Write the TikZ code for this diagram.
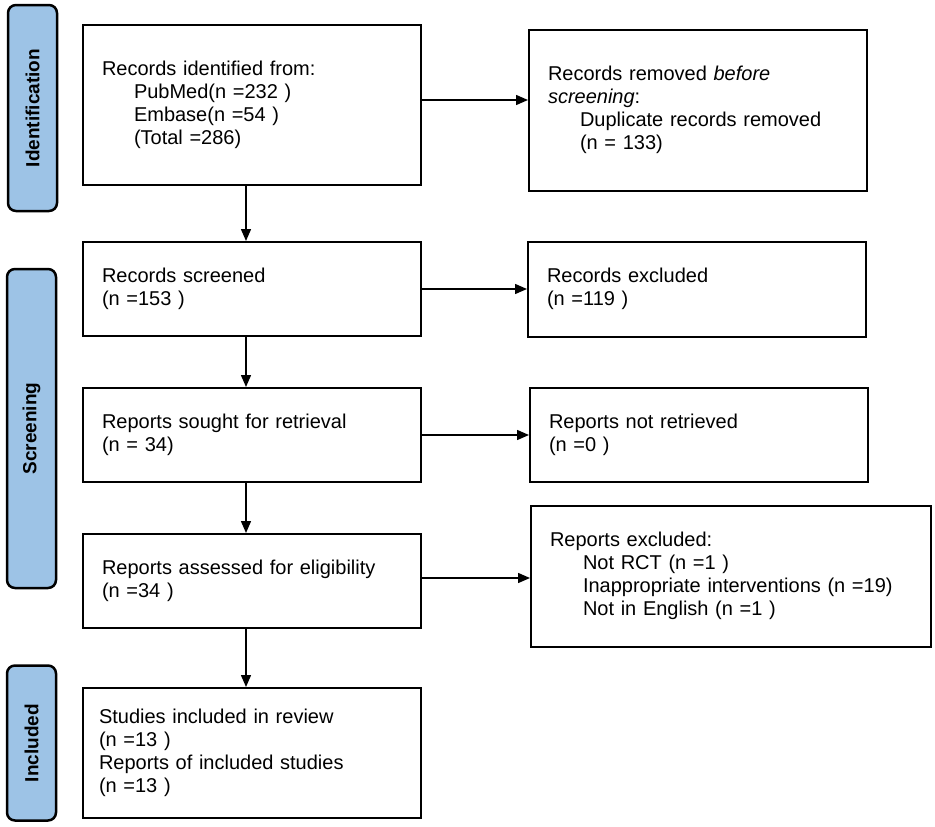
\documentclass[tikz,border=0pt]{standalone}
\usepackage{fontspec}
\setmainfont{Liberation Sans}
\usepackage{xcolor}
\usetikzlibrary{arrows.meta,positioning,calc}
\definecolor{phaseblue}{RGB}{157,195,230}

\begin{document}
\begin{tikzpicture}[
    x=1pt, y=-1pt,
    node distance=50pt,
    box/.style={rectangle, draw, line width=2pt, text width=300pt, inner xsep=19pt, inner ysep=0pt, align=left, font=\fontsize{20}{23}\selectfont},
    phase/.style={rectangle, draw, line width=2.5pt, rounded corners=8pt, fill=phaseblue, rotate=90, minimum height=49pt, font=\fontsize{19}{22}\selectfont\bfseries},
    arrow/.style={-{Triangle[length=12pt,width=10pt]}, line width=1.5pt}
]
\useasboundingbox (0,0) rectangle (935,827);

% Phase labels
\node[phase, minimum width=206pt] (idphase) at (32.5,108) {Identification};
\node[phase, minimum width=319pt] (scphase) at (31.5,428.5) {Screening};
\node[phase, minimum width=155pt] (inphase) at (31.5,743) {Included};

% Main column
\node[box, minimum height=160pt] (ident) at (252,105) {Records identified from:\\
  \hspace*{32pt}PubMed(n =232 )\\
  \hspace*{32pt}Embase(n =54 )\\
  \hspace*{32pt}(Total =286)};
\node[box, minimum height=94pt, below=55pt of ident] (screen) {Records screened\\(n =153 )};
\node[box, minimum height=94pt, below=of screen] (sought) {Reports sought for retrieval\\(n = 34)};
\node[box, minimum height=94pt, below=of sought] (assess) {Reports assessed for eligibility\\(n =34 )};
\node[box, minimum height=130pt, inner xsep=16pt, text width=306pt, below=58pt of assess] (incl) {Studies included in review\\(n =13 )\\Reports of included studies\\(n =13 )};

% Side column
\node[box, minimum height=161pt, right=106pt of ident, yshift=-5pt] (removed) {Records removed \textit{before}\\
  \textit{screening}:\\
  \hspace*{32pt}Duplicate records removed\\
  \hspace*{32pt}(n = 133)};
\node[box, minimum height=95pt, right=105pt of screen] (excl) {Records excluded\\(n =119 )};
\node[box, minimum height=94pt, right=107pt of sought] (notret) {Reports not retrieved\\(n =0 )};
\node[box, minimum height=141pt, text width=362pt, right=108pt of assess, yshift=5pt] (repexcl) {Reports excluded:\\
  \hspace*{33pt}Not RCT (n =1 )\\
  \hspace*{33pt}Inappropriate interventions (n =19)\\
  \hspace*{33pt}Not in English (n =1 )};

% Arrows
\coordinate (spine) at (246,0);
\draw[arrow] (ident.south -| spine) -- (screen.north -| spine);
\draw[arrow] (screen.south -| spine) -- (sought.north -| spine);
\draw[arrow] (sought.south -| spine) -- (assess.north -| spine);
\draw[arrow] (assess.south -| spine) -- (incl.north -| spine);

\draw[arrow] ([yshift=5pt]ident.east) -- ([yshift=5pt]ident.east -| removed.west);
\draw[arrow] (screen.east) -- (screen.east -| excl.west);
\draw[arrow] (sought.east) -- (sought.east -| notret.west);
\draw[arrow] ([yshift=3pt]assess.east) -- ([yshift=3pt]assess.east -| repexcl.west);

\end{tikzpicture}
\end{document}
